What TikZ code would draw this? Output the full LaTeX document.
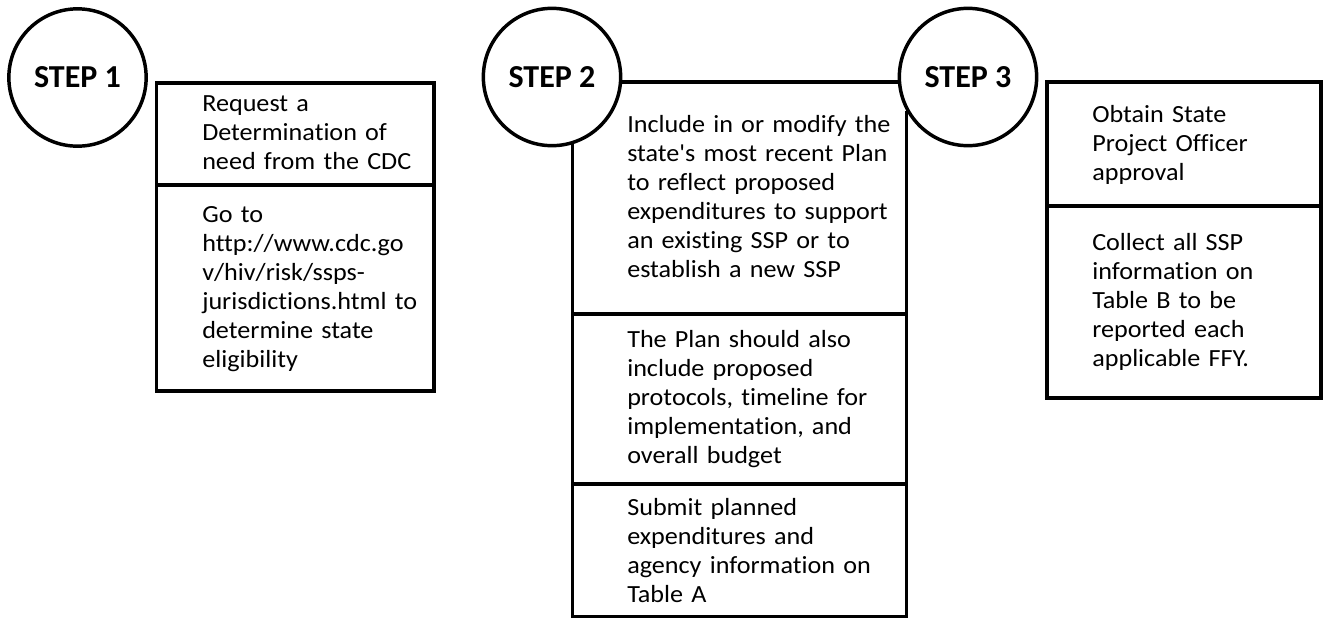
\documentclass[tikz,border=0pt]{standalone}
\usepackage{fontspec}
\newfontfamily\boxfont{Carlito}[FakeStretch=1.06, Ligatures={NoCommon}]
\newfontfamily\stepfont{Carlito}
\usetikzlibrary{positioning}

\tikzset{
  stepcircle/.style={circle, draw, line width=2.6pt, fill=white, minimum size=103pt, inner sep=0pt,
    font=\stepfont\bfseries\fontsize{24pt}{28pt}\selectfont},
  boxtext/.style={anchor=base west, inner sep=0pt, text width=240pt, align=left,
    font=\boxfont\fontsize{18.5pt}{21.75pt}\selectfont},
  boxline/.style={line width=2.6pt}
}

\begin{document}
\begin{tikzpicture}[x=0.75pt, y=-0.75pt]
        \useasboundingbox (0,0) rectangle (1325,619);

        \node[stepcircle] (s1) at (77.5,77.5) {STEP 1};
        \node[stepcircle] (s2) at (552,77) {STEP 2};
        \node[stepcircle] (s3) at (968,77) {STEP 3};

        % step 1 box
        \draw[boxline] (156.5,83) rectangle (434,391);
        \draw[boxline] (156.5,185) -- (434,185);

        % step 2 box hangs between the two circles
        \coordinate (b2bot) at (572.5,616.5);
        \draw[boxline] (s2.-4) -- (s3.184);
        \draw[boxline] (s2.-73) -- (s2.-73 |- b2bot) -- (s3.209 |- b2bot) -- (s3.209);
        \draw[boxline] (572.5,314) -- (908,314);
        \draw[boxline] (572.5,484) -- (908,484);

        % step 3 box
        \draw[boxline] (1047,82) rectangle (1321,398);
        \draw[boxline] (1047,206) -- (1321,206);

        \node[boxtext] (t1a) at (202,111) {Request a\\Determination of\\need from the CDC};
        \node[boxtext] (t1b) at (202,222) {Go to\\http://www.cdc.go\\v/hiv/risk/ssps-\\jurisdictions.html to\\determine state\\eligibility};

        \node[boxtext] (t2a) at (627,132) {Include in or modify the\\state's most recent Plan\\to reflect proposed\\expenditures to support\\an existing SSP or to\\establish a new SSP};
        \node[boxtext] (t2b) at (627,347) {The Plan should also\\include proposed\\protocols, timeline for\\implementation, and\\overall budget};
        \node[boxtext] (t2c) at (627,515) {Submit planned\\expenditures and\\agency information on\\Table A};

        \node[boxtext] (t3a) at (1092,122) {Obtain State\\Project Officer\\approval};
        \node[boxtext] (t3b) at (1092,250) {Collect all SSP\\information on\\Table B to be\\reported each\\applicable FFY.};
    \end{tikzpicture}
\end{document}
